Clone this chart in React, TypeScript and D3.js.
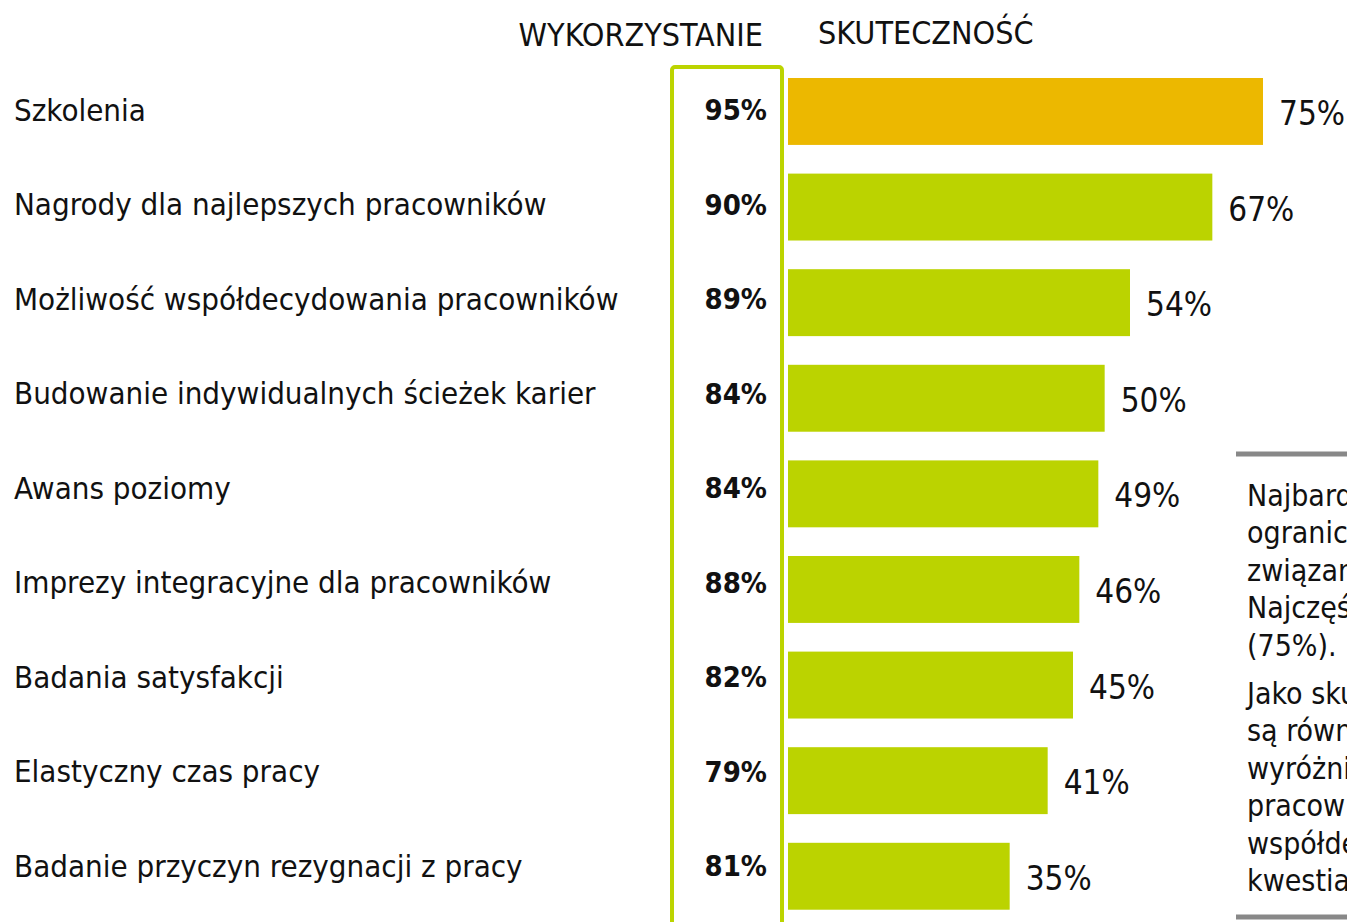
import React, { useEffect, useRef } from 'react';
import * as d3 from 'd3';

const categories = [
  'Szkolenia',
  'Nagrody dla najlepszych pracowników',
  'Możliwość współdecydowania pracowników',
  'Budowanie indywidualnych ścieżek karier',
  'Awans poziomy',
  'Imprezy integracyjne dla pracowników',
  'Badania satysfakcji',
  'Elastyczny czas pracy',
  'Badanie przyczyn rezygnacji z pracy',
];
const usage = [95, 90, 89, 84, 84, 88, 82, 79, 81];
const effectiveness = [75, 67, 54, 50, 49, 46, 45, 41, 35];
const headers = ['WYKORZYSTANIE', 'SKUTECZNOŚĆ'];
const noteLines = [
  'Najbardziej skuteczne, choć',
  'ograniczone budżetem, są działania',
  'związane z rozwojem pracowników.',
  'Najczęściej wskazywano szkolenia',
  '(75%).',
  'Jako skuteczne oceniane',
  'są również nagrody dla',
  'wyróżniających się',
  'pracowników oraz możliwość',
  'współdecydowania w ważnych',
  'kwestiach.',
];

const W = 1347;
const H = 922;
const FONT = "Tahoma, 'DejaVu Sans Condensed', 'DejaVu Sans', sans-serif";

const App = () => {
  const ref = useRef<SVGSVGElement>(null);

  useEffect(() => {
    const svg = d3.select(ref.current);
    svg.selectAll('*').remove();
    svg.attr('font-family', FONT);

    const x = d3.scaleLinear().domain([0, 75]).range([788, 1263]);
    const step = 95.6;
    const y = d3.scaleBand<string>()
      .domain(categories)
      .range([78 - 0.15 * step, 78 - 0.15 * step + 9 * step])
      .paddingInner(0.3)
      .paddingOuter(0.15);
    // rows of the left table sit slightly apart from the bars
    const row = d3.scalePoint<string>().domain(categories).range([110, 866]);

    // headers
    svg.append('text').attr('x', 763).attr('y', 46).attr('text-anchor', 'end')
      .attr('font-size', 32).attr('fill', '#111').text(headers[0]);
    svg.append('text').attr('x', 818).attr('y', 44)
      .attr('font-size', 32).attr('fill', '#111').text(headers[1]);

    // usage box
    svg.append('rect')
      .attr('x', 672).attr('y', 67).attr('width', 110).attr('height', 900)
      .attr('rx', 3)
      .attr('fill', 'none').attr('stroke', '#BCD400').attr('stroke-width', 4);

    // left labels
    svg.append('g').selectAll('text').data(categories).enter().append('text')
      .attr('x', 14).attr('y', d => row(d)!)
      .attr('dy', '0.35em')
      .attr('font-size', 31).attr('fill', '#111')
      .text(d => d);

    // usage values
    svg.append('g').selectAll('text').data(categories).enter().append('text')
      .attr('x', 767).attr('y', d => row(d)!)
      .attr('dy', '0.35em').attr('text-anchor', 'end')
      .attr('font-size', 29).attr('font-weight', 'bold').attr('fill', '#111')
      .text((d, i) => `${usage[i]}%`);

    // bars
    svg.append('g').selectAll('rect').data(categories).enter().append('rect')
      .attr('x', x(0)).attr('y', d => y(d)!)
      .attr('width', (d, i) => x(effectiveness[i]) - x(0))
      .attr('height', y.bandwidth())
      .attr('fill', (d, i) => (i === 0 ? '#ECB800' : '#BBD300'));

    svg.append('g').selectAll('text').data(categories).enter().append('text')
      .attr('x', (d, i) => x(effectiveness[i]) + 16)
      .attr('y', d => y(d)! + y.bandwidth() / 2 + 2)
      .attr('dy', '0.35em')
      .attr('font-size', 33).attr('fill', '#111')
      .text((d, i) => `${effectiveness[i]}%`);

    // note box on the right (clipped by the right edge, as in the source)
    svg.append('line').attr('x1', 1236).attr('x2', W).attr('y1', 454).attr('y2', 454)
      .attr('stroke', '#888').attr('stroke-width', 5);
    svg.append('line').attr('x1', 1236).attr('x2', W).attr('y1', 917).attr('y2', 917)
      .attr('stroke', '#888').attr('stroke-width', 5);
    svg.append('g').selectAll('text').data(noteLines).enter().append('text')
      .attr('x', 1247)
      .attr('y', (d, i) => 495 + i * 37.5 + (i >= 5 ? 10.5 : 0))
      .attr('dy', '0.35em')
      .attr('font-size', 30).attr('fill', '#111')
      .text(d => d);
  }, []);

  return (
    <svg ref={ref} width={W} height={H}
      style={{ position: 'absolute', left: 0, top: 0, background: '#fff' }} />
  );
};

export default App;
